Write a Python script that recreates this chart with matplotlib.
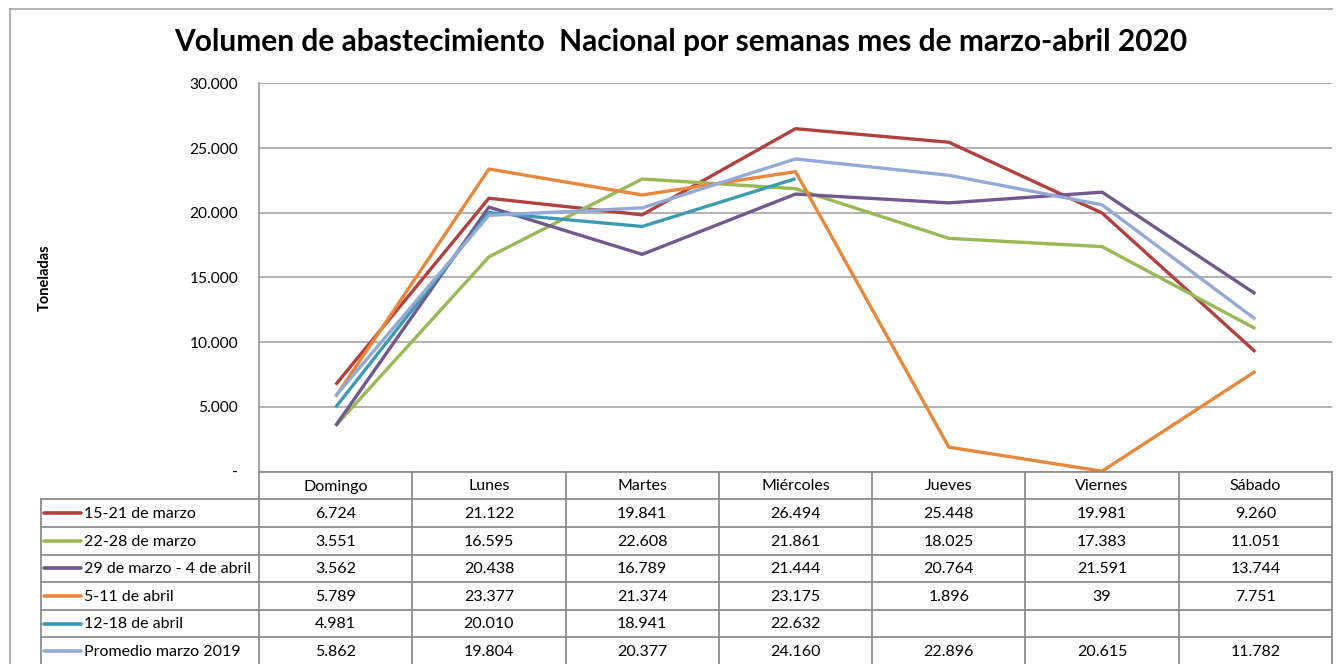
import numpy as np
import matplotlib.pyplot as plt

plt.rcParams['font.family'] = ['Lato', 'DejaVu Sans']

dias = ["Domingo", "Lunes", "Martes", "Miércoles", "Jueves", "Viernes", "Sábado"]

series_nombres = ["15-21 de marzo", "22-28 de marzo", "29 de marzo - 4 de abril",
                  "5-11 de abril", "12-18 de abril", "Promedio marzo 2019"]
marzo_15_21 = [6724, 21122, 19841, 26494, 25448, 19981, 9260]
marzo_22_28 = [3551, 16595, 22608, 21861, 18025, 17383, 11051]
marzo_29_abril_4 = [3562, 20438, 16789, 21444, 20764, 21591, 13744]
abril_5_11 = [5789, 23377, 21374, 23175, 1896, 39, 7751]
abril_12_18 = [4981, 20010, 18941, 22632, np.nan, np.nan, np.nan]
promedio_2019 = [5862, 19804, 20377, 24160, 22896, 20615, 11782]

colores = ['#B0413E', '#98B954', '#71588F', '#E6873A', '#3C9BB3', '#93AAD8']

valores = [marzo_15_21, marzo_22_28, marzo_29_abril_4, abril_5_11, abril_12_18, promedio_2019]

W, H = 1338, 664
fig = plt.figure(figsize=(W / 100, H / 100), dpi=100)

# zona del grafico en pixeles
x0, x1 = 259, 1332
y_top, y_bot = 83.3, 471.7
ax = fig.add_axes([x0 / W, 1 - y_bot / H, (x1 - x0) / W, (y_bot - y_top) / H])

x = np.arange(len(dias))
for vals, col in zip(valores, colores):
    ax.plot(x, vals, color=col, linewidth=2.4, solid_capstyle='butt', zorder=3)

ax.set_xlim(-0.5, len(dias) - 0.5)
ax.set_ylim(0, 30000)
ticks = np.arange(0, 30001, 5000)
ax.set_yticks(ticks)
ax.set_yticklabels(["-" if t == 0 else f"{t:,.0f}".replace(",", ".") for t in ticks])
ax.set_xticks([])
ax.tick_params(axis='y', length=0, pad=15, labelsize=11.2)
ax.grid(axis='y', color='#A6A6A6', linewidth=1.2)
ax.set_axisbelow(True)
for s in ['top', 'right', 'bottom']:
    ax.spines[s].set_visible(False)
ax.spines['left'].set_color('#969696')
ax.spines['left'].set_linewidth(1.2)

fig.text(45 / W, 1 - 278 / H, "Toneladas", rotation=90, fontsize=10.5, fontweight='bold',
         ha='center', va='center')

fig.text(681 / W, 1 - 42 / H,
         "Volumen de abastecimiento  Nacional por semanas mes de marzo-abril 2020",
         fontsize=21.5, fontweight='bold', ha='center', va='center')

# capa superior en pixeles para la tabla y el marco
ov = fig.add_axes([0, 0, 1, 1], zorder=5)
ov.set_xlim(0, W)
ov.set_ylim(H, 0)
ov.axis('off')
ov.patch.set_alpha(0)

borde = dict(color='#8C8C8C', linewidth=1.3)
# marco exterior
ov.plot([10, 1332], [9, 9], color='#A6A6A6', linewidth=1.2)
ov.plot([10, 10], [9, H], color='#A6A6A6', linewidth=1.2)

col_w = (x1 - x0) / len(dias)
leg_x = 40.7
header_bot = 499.3
row_h = 27.6
n_rows = len(series_nombres)
tab_bot = header_bot + row_h * n_rows

# lineas de la tabla
ov.plot([x0, x1], [y_bot, y_bot], **borde)
for i in range(len(dias) + 1):
    xc = x0 + i * col_w
    ov.plot([xc, xc], [y_bot, tab_bot], **borde)
ov.plot([leg_x, leg_x], [header_bot, tab_bot], **borde)
for r in range(n_rows + 1):
    yr = header_bot + r * row_h
    ov.plot([leg_x, x1], [yr, yr], **borde)

fs = 11.5
# encabezado
for i, d in enumerate(dias):
    ov.text(x0 + (i + 0.5) * col_w, (y_bot + header_bot) / 2 + 1, d, ha='center',
            va='center', fontsize=fs)

# filas
for r, (nombre, vals, col) in enumerate(zip(series_nombres, valores, colores)):
    yc = header_bot + (r + 0.5) * row_h
    ov.plot([44, 81], [yc, yc], color=col, linewidth=2.6, solid_capstyle='round')
    ov.text(84, yc + 1, nombre, ha='left', va='center', fontsize=fs)
    for i, v in enumerate(vals):
        if np.isnan(v):
            continue
        ov.text(x0 + (i + 0.5) * col_w, yc + 1, f"{v:,.0f}".replace(",", "."),
                ha='center', va='center', fontsize=fs)

fig.savefig("out.png", dpi=100)
